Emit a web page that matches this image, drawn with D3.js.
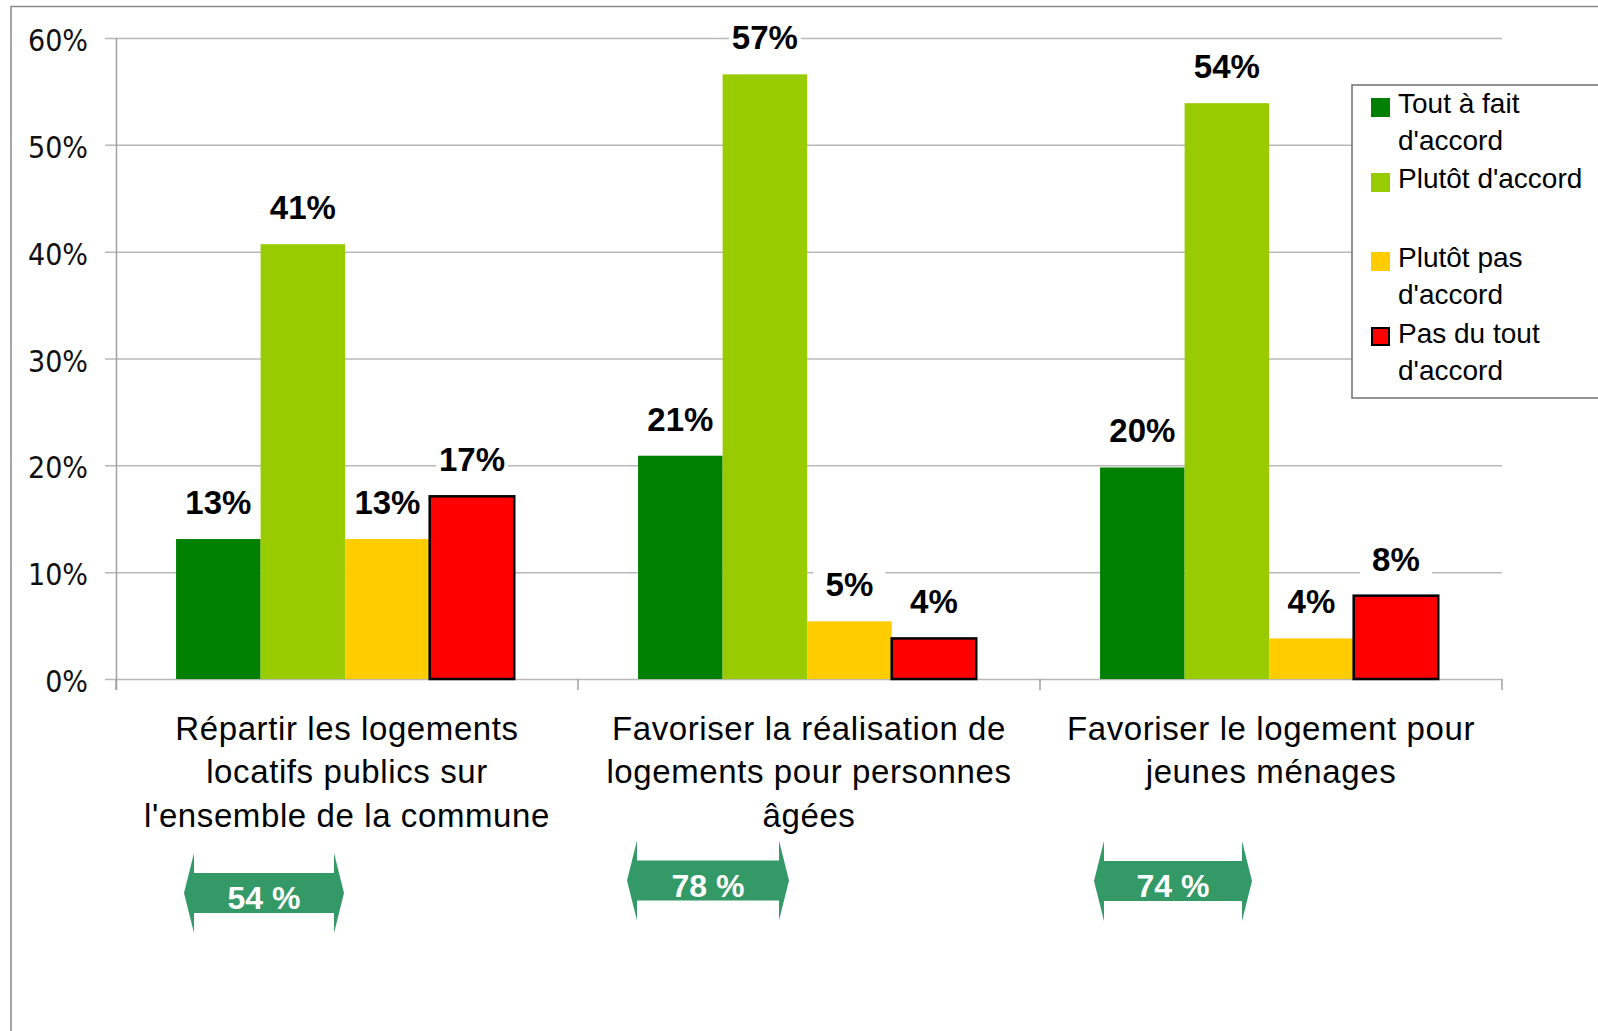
<!DOCTYPE html>
<html>
<head>
<meta charset="utf-8">
<script src="https://cdn.jsdelivr.net/npm/d3@7"></script>
<style>
  body { margin: 0; background: white; }
  svg { display: block; }
</style>
</head>
<body>
<div id="chart"></div>
<script>
// chart values
const categories = [
    ["Répartir les logements", "locatifs publics sur", "l'ensemble de la commune"],
    ["Favoriser la réalisation de", "logements pour personnes", "âgées"],
    ["Favoriser le logement pour", "jeunes ménages"]
];
const seriesNames = ["Tout à fait d'accord", "Plutôt d'accord", "Plutôt pas d'accord", "Pas du tout d'accord"];
const legendLines = [["Tout à fait", "d'accord"], ["Plutôt d'accord"], ["Plutôt pas", "d'accord"], ["Pas du tout", "d'accord"]];
const toutAFait = [13.1, 20.9, 19.8];
const plutot = [40.7, 56.6, 53.9];
const plutotPas = [13.1, 5.4, 3.8];
const pasDuTout = [17.1, 3.8, 7.8];
const totals = [54, 78, 74];
const yTicks = [0, 10, 20, 30, 40, 50, 60];

const colors = ["#008000", "#99cc00", "#ffcc00", "#ff0000"];
const series = [toutAFait, plutot, plutotPas, pasDuTout];

const w = 1598;
const h = 1031;
const plotLeft = 116, plotRight = 1502, plotTop = 38, plotBottom = 679;

const svg = d3.select("#chart")
              .append("svg")
              .attr("width", w)
              .attr("height", h)
              .style("background", "white");

// outer frame
svg.append("rect")
   .attr("x", 11).attr("y", 6.5)
   .attr("width", w + 20).attr("height", h + 20)
   .attr("fill", "none")
   .attr("stroke", "#8a8a8a")
   .attr("stroke-width", 1.5);

const xScale = d3.scaleBand()
                 .domain(d3.range(categories.length))
                 .range([plotLeft, plotRight]);

const xSub = d3.scaleBand()
               .domain(d3.range(seriesNames.length))
               .range([xScale.bandwidth() * 0.13, xScale.bandwidth() * 0.862]);

const yScale = d3.scaleLinear()
                 .domain([0, 60])
                 .range([plotBottom, plotTop]);

// gridlines
svg.append("g")
   .selectAll("line")
   .data(yTicks)
   .enter()
   .append("line")
   .attr("x1", plotLeft - 11)
   .attr("x2", plotRight)
   .attr("y1", d => yScale(d) + 0.5)
   .attr("y2", d => yScale(d) + 0.5)
   .attr("stroke", "#b8b8b8")
   .attr("stroke-width", 1.5);

// y axis line
svg.append("line")
   .attr("x1", plotLeft + 0.5).attr("x2", plotLeft + 0.5)
   .attr("y1", plotTop).attr("y2", plotBottom + 11)
   .attr("stroke", "#a0a0a0")
   .attr("stroke-width", 1.5);

// x axis ticks
svg.append("g")
   .selectAll("line")
   .data(d3.range(categories.length + 1))
   .enter()
   .append("line")
   .attr("x1", d => plotLeft + d * xScale.step())
   .attr("x2", d => plotLeft + d * xScale.step())
   .attr("y1", plotBottom)
   .attr("y2", plotBottom + 11)
   .attr("stroke", "#a0a0a0")
   .attr("stroke-width", 1.5);

svg.append("g")
   .selectAll("text")
   .data(yTicks)
   .enter()
   .append("text")
   .attr("x", 88)
   .attr("y", d => yScale(d) + 13)
   .attr("text-anchor", "end")
   .style("font-family", "'DejaVu Sans Condensed', 'DejaVu Sans'")
   .style("font-size", "30px")
   .attr("fill", "#111")
   .text(d => d + "%");

// bars
const groups = svg.selectAll(".grp")
                  .data(categories)
                  .enter()
                  .append("g")
                  .attr("class", "grp")
                  .attr("transform", (d, i) => "translate(" + xScale(i) + ",0)");

groups.selectAll("rect")
      .data((d, i) => series.map((s, k) => ({k: k, v: s[i]})))
      .enter()
      .append("rect")
      .attr("x", d => xSub(d.k))
      .attr("y", d => yScale(d.v))
      .attr("width", xSub.bandwidth())
      .attr("height", d => plotBottom - yScale(d.v))
      .attr("fill", d => colors[d.k])
      .attr("stroke", d => d.k === 3 ? "#000" : "none")
      .attr("stroke-width", 2.5);

// value labels
const lab = groups.selectAll(".lab")
                  .data((d, i) => series.map((s, k) => ({k: k, v: s[i]})))
                  .enter()
                  .append("g")
                  .attr("class", "lab");

lab.append("rect")
   .attr("x", d => xSub(d.k) + xSub.bandwidth() / 2 - 36)
   .attr("y", d => yScale(d.v) - 50)
   .attr("width", 72)
   .attr("height", 30)
   .attr("fill", "white");

lab.append("text")
   .attr("x", d => xSub(d.k) + xSub.bandwidth() / 2)
   .attr("y", d => yScale(d.v) - 25)
   .attr("text-anchor", "middle")
   .style("font-family", "'Liberation Sans', Arial")
   .style("font-weight", "bold")
   .style("font-size", "33px")
   .attr("fill", "#000")
   .text(d => Math.round(d.v) + "%");

// category labels
groups.append("text")
      .attr("text-anchor", "middle")
      .style("font-family", "'Liberation Sans', Arial")
      .style("font-size", "33px")
      .style("letter-spacing", "0.6px")
      .attr("fill", "#000")
      .selectAll("tspan")
      .data(d => d)
      .enter()
      .append("tspan")
      .attr("x", xScale.bandwidth() / 2)
      .attr("y", (d, j) => 740 + j * 43.4)
      .text(d => d);

// total arrows
const arrowPos = [{x: 68, w: 160, cy: 893}, {x: 49, w: 162, cy: 880.5}, {x: 54, w: 158, cy: 881}];
const arrows = svg.selectAll(".arrow")
                  .data(totals)
                  .enter()
                  .append("g")
                  .attr("class", "arrow")
                  .attr("transform", (d, i) => "translate(" + (xScale(i) + arrowPos[i].x) + "," + arrowPos[i].cy + ")");

arrows.append("path")
      .attr("d", (d, i) => {
          const aw = arrowPos[i].w;
          const line = d3.line();
          return line([[0, 0], [10, -40], [10, -20], [aw - 10, -20], [aw - 10, -40], [aw, 0],
                       [aw - 10, 40], [aw - 10, 20], [10, 20], [10, 40]]) + "Z";
      })
      .attr("fill", "#339966");

arrows.append("text")
      .attr("x", (d, i) => arrowPos[i].w / 2)
      .attr("y", 16)
      .attr("text-anchor", "middle")
      .style("font-family", "'Liberation Sans', Arial")
      .style("font-weight", "bold")
      .style("font-size", "32px")
      .attr("fill", "white")
      .text(d => d + " %");

// legend
const legend = svg.append("g");
legend.append("rect")
      .attr("x", 1352).attr("y", 85)
      .attr("width", 300).attr("height", 313)
      .attr("fill", "white")
      .attr("stroke", "#707070")
      .attr("stroke-width", 1.5);

const legendY = [113, 188, 267, 343];
const item = legend.selectAll(".item")
                   .data(seriesNames)
                   .enter()
                   .append("g")
                   .attr("class", "item");

item.append("rect")
    .attr("x", (d, k) => k === 3 ? 1372 : 1371)
    .attr("y", (d, k) => legendY[k] - 15)
    .attr("width", (d, k) => k === 3 ? 17 : 19)
    .attr("height", (d, k) => k === 3 ? 17 : 19)
    .attr("fill", (d, k) => colors[k])
    .attr("stroke", (d, k) => k === 3 ? "#000" : "none")
    .attr("stroke-width", 2);

item.append("text")
    .style("font-family", "'Liberation Sans', Arial")
    .style("font-size", "28px")
    .attr("fill", "#000")
    .selectAll("tspan")
    .data((d, k) => legendLines[k].map(t => ({t: t, k: k})))
    .enter()
    .append("tspan")
    .attr("x", 1398)
    .attr("y", (d, j) => legendY[d.k] + j * 36.5)
    .text(d => d.t);
</script>
</body>
</html>
